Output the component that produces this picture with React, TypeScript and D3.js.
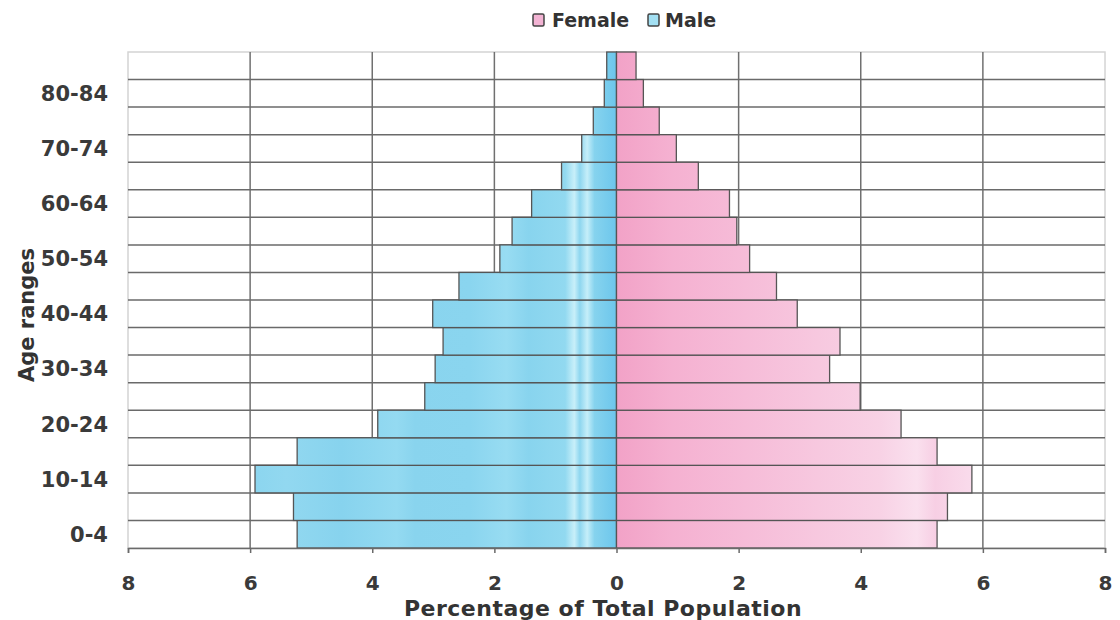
import { useEffect, useRef } from "react";
import * as d3 from "d3";

// age groups, youngest first
const ageGroups = [
  "0-4", "5-9", "10-14", "15-19", "20-24", "25-29", "30-34", "35-39", "40-44",
  "45-49", "50-54", "55-59", "60-64", "65-69", "70-74", "75-79", "80-84", "85+",
];
const malePct = [
  5.23, 5.29, 5.92, 5.23, 3.91, 3.14, 2.97, 2.84, 3.01,
  2.58, 1.91, 1.71, 1.39, 0.9, 0.57, 0.38, 0.2, 0.16,
];
const femalePct = [
  5.25, 5.42, 5.82, 5.25, 4.66, 3.99, 3.49, 3.66, 2.96,
  2.62, 2.18, 1.97, 1.85, 1.34, 0.98, 0.7, 0.44, 0.32,
];
const labelledGroups = ["0-4", "10-14", "20-24", "30-34", "40-44", "50-54", "60-64", "70-74", "80-84"];
const xTicks = [-8, -6, -4, -2, 0, 2, 4, 6, 8];

export default function App() {
  const ref = useRef<SVGSVGElement>(null);

  useEffect(() => {
    if (!ref.current) return;
    const svg = d3.select(ref.current);
    svg.selectAll("*").remove();

    const left = 128, right = 1105, top = 52, bottom = 548;
    const font = "'DejaVu Sans', Verdana, sans-serif";

    const x = d3.scaleLinear().domain([-8, 8]).range([left, right]);
    const y = d3.scaleBand<string>().domain([...ageGroups].reverse()).range([top, bottom]).padding(0);

    const defs = svg.append("defs");
    const male = defs.append("linearGradient").attr("id", "maleGrad")
      .attr("gradientUnits", "userSpaceOnUse")
      .attr("x1", x(-6)).attr("x2", x(0)).attr("y1", 0).attr("y2", 0);
    [
      [0, "#8bd5ef"], [0.1, "#92d8f0"], [0.25, "#87d3ee"], [0.4, "#94daf1"], [0.45, "#89d4ee"],
      [0.6, "#8ad5ef"], [0.7, "#98dcf2"], [0.76, "#88d4ee"], [0.86, "#92d9f0"],
      [0.885, "#c8eff9"], [0.9, "#8ed6ef"], [0.92, "#c5eef9"], [0.94, "#86d3ee"],
      [1, "#6cc6ec"],
    ].forEach(([o, c]) => male.append("stop").attr("offset", o as number).attr("stop-color", c as string));

    const female = defs.append("linearGradient").attr("id", "femaleGrad")
      .attr("gradientUnits", "userSpaceOnUse")
      .attr("x1", x(0)).attr("x2", x(6)).attr("y1", 0).attr("y2", 0);
    [
      [0, "#f2a2c7"], [0.15, "#f5b1d1"], [0.35, "#f6bcd8"], [0.55, "#f7c8df"],
      [0.72, "#f8d2e5"], [0.82, "#fae0ee"], [0.87, "#f7cfe4"], [1, "#fadfee"],
    ].forEach(([o, c]) => female.append("stop").attr("offset", o as number).attr("stop-color", c as string));

    svg.append("rect").attr("x", 0).attr("y", 0).attr("width", 1120).attr("height", 620).attr("fill", "#fff");

    // plot frame (light)
    svg.append("rect").attr("x", left).attr("y", top).attr("width", right - left).attr("height", bottom - top)
      .attr("fill", "none").attr("stroke", "#d4d4d4").attr("stroke-width", 1.5);

    // vertical gridlines
    svg.append("g").selectAll("line").data(xTicks.filter((t) => t !== -8 && t !== 8)).join("line")
      .attr("x1", (d) => x(d)).attr("x2", (d) => x(d)).attr("y1", top).attr("y2", bottom)
      .attr("stroke", "#707070").attr("stroke-width", 1.5);

    // horizontal gridlines at category boundaries
    const bounds = ageGroups.slice(0, -1).map((g) => y(g)!);
    svg.append("g").selectAll("line").data(bounds).join("line")
      .attr("x1", left).attr("x2", right).attr("y1", (d) => d).attr("y2", (d) => d)
      .attr("stroke", "#6a6a6a").attr("stroke-width", 1.5);

    // bars
    const bw = y.bandwidth();
    svg.append("g").selectAll("rect").data(ageGroups).join("rect")
      .attr("x", (_, i) => x(-malePct[i])).attr("y", (d) => y(d)!)
      .attr("width", (_, i) => x(0) - x(-malePct[i])).attr("height", bw)
      .attr("fill", "url(#maleGrad)").attr("stroke", "#555").attr("stroke-width", 1.3);
    svg.append("g").selectAll("rect").data(ageGroups).join("rect")
      .attr("x", x(0)).attr("y", (d) => y(d)!)
      .attr("width", (_, i) => x(femalePct[i]) - x(0)).attr("height", bw)
      .attr("fill", "url(#femaleGrad)").attr("stroke", "#555").attr("stroke-width", 1.3);

    // x axis
    const xAxis = d3.axisBottom(x).tickValues(xTicks).tickSize(5).tickFormat((d) => String(Math.abs(+d)));
    const ax = svg.append("g").attr("transform", `translate(0,${bottom})`).call(xAxis);
    ax.select(".domain").attr("stroke", "#6a6a6a").attr("stroke-width", 1.5);
    ax.selectAll(".tick line").attr("stroke", "#6a6a6a").attr("stroke-width", 1.5);
    ax.selectAll(".tick text").attr("y", 42).attr("dy", 0)
      .style("font-family", font).style("font-size", "20px").style("font-weight", "bold").attr("fill", "#3a3a3a");

    // y labels
    svg.append("g").selectAll("text").data(labelledGroups).join("text")
      .attr("x", 108).attr("y", (d) => y(d)! + bw / 2 + 7.5)
      .attr("text-anchor", "end")
      .style("font-family", font).style("font-size", "21px").style("font-weight", "bold")
      .attr("fill", "#3a3a3a").text((d) => d);

    // axis titles
    svg.append("text").attr("x", 603).attr("y", 616).attr("text-anchor", "middle")
      .style("font-family", font).style("font-size", "22px").style("font-weight", "bold")
      .style("letter-spacing", "0.5px")
      .attr("fill", "#333").text("Percentage of Total Population");
    svg.append("text").attr("transform", "translate(34,315) rotate(-90)").attr("text-anchor", "middle")
      .style("font-family", font).style("font-size", "21px").style("font-weight", "bold")
      .attr("fill", "#333").text("Age ranges");

    // legend
    const legend = [
      { label: "Female", fill: "#f2b3d3", sx: 533, tx: 552 },
      { label: "Male", fill: "#a3e0f3", sx: 648, tx: 665 },
    ];
    const lg = svg.append("g");
    legend.forEach((l) => {
      lg.append("rect").attr("x", l.sx).attr("y", 14).attr("width", 11).attr("height", 12).attr("rx", 1.5)
        .attr("fill", l.fill).attr("stroke", "#444").attr("stroke-width", 1.5);
      lg.append("text").attr("x", l.tx).attr("y", 27)
        .style("font-family", font).style("font-size", "19px").style("font-weight", "bold")
        .attr("fill", "#333").text(l.label);
    });
  }, []);

  return (
    <div style={{ position: "absolute", left: 0, top: 0 }}>
      <svg ref={ref} width={1120} height={620} style={{ display: "block" }} />
    </div>
  );
}
